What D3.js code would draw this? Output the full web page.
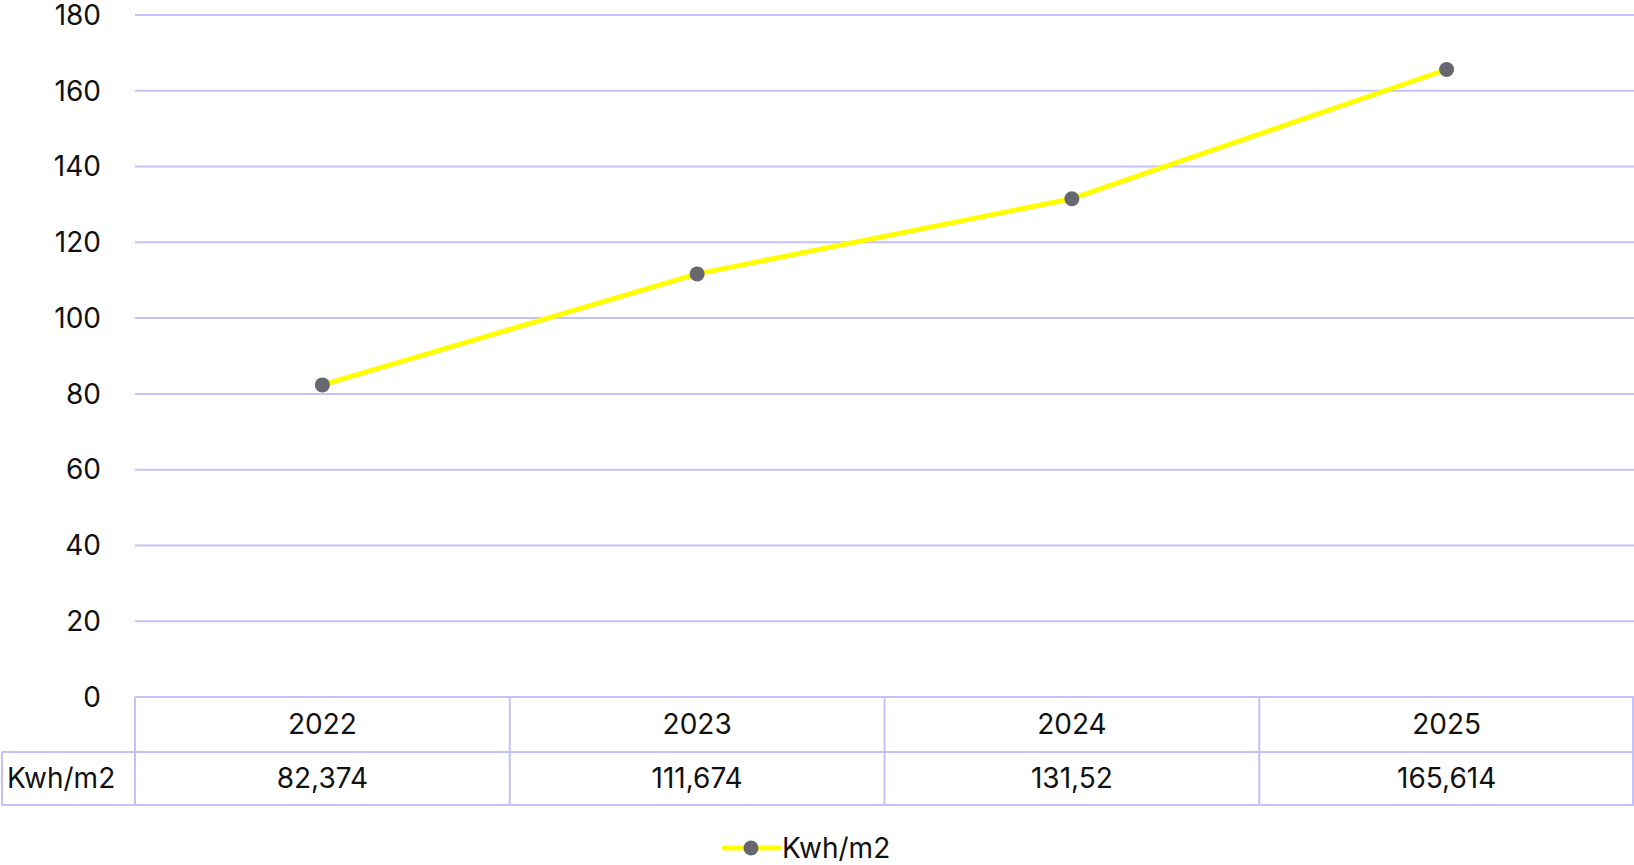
<!DOCTYPE html>
<html>
<head>
<meta charset="utf-8">
<script src="https://cdn.jsdelivr.net/npm/d3@7"></script>
<style>
  html, body { margin: 0; padding: 0; background: #fff; }
  svg { display: block; font-family: Inter, "Noto Sans", sans-serif; }
</style>
</head>
<body>
<svg id="chart" width="1634" height="865"></svg>
<script>
const YEARS = ['2022', '2023', '2024', '2025'];
const VALUES = [82.374, 111.674, 131.52, 165.614];
const VALUE_LABELS = ['82,374', '111,674', '131,52', '165,614'];
const SERIES_NAME = 'Kwh/m2';
const Y_TICKS = [0, 20, 40, 60, 80, 100, 120, 140, 160, 180];

const GRID = '#c2c2f4';
const LINE = '#ffff00';
const DOT = '#67676f';
const FONT = 28;

const svg = d3.select('#chart');

const x = d3.scaleBand().domain(YEARS).range([135, 1634]);
const y = d3.scaleLinear().domain([0, 180]).range([697, 15]);

// gridlines (skip 0, the table top sits there)
svg.append('g').selectAll('line')
  .data(Y_TICKS.filter(t => t > 0))
  .join('line')
  .attr('x1', 135).attr('x2', 1634)
  .attr('y1', d => y(d)).attr('y2', d => y(d))
  .attr('stroke', GRID).attr('stroke-width', 2);

// y axis labels
svg.append('g').selectAll('text')
  .data(Y_TICKS)
  .join('text')
  .attr('x', 101)
  .attr('y', d => y(d))
  .attr('dy', '0.35em')
  .attr('text-anchor', 'end')
  .attr('font-size', FONT)
  .attr('fill', '#111')
  .text(d => d);

// data table under the plot
const rowTop = y(0), rowMid = 752, rowBot = 805, labelLeft = 2;
const tbl = svg.append('g').attr('fill', 'none').attr('stroke', GRID).attr('stroke-width', 2);
tbl.append('line').attr('x1', x.range()[0]).attr('x2', x.range()[1]).attr('y1', rowTop).attr('y2', rowTop);
tbl.append('line').attr('x1', labelLeft).attr('x2', x.range()[1]).attr('y1', rowMid).attr('y2', rowMid);
tbl.append('line').attr('x1', labelLeft).attr('x2', x.range()[1]).attr('y1', rowBot).attr('y2', rowBot);
tbl.append('line').attr('x1', labelLeft).attr('x2', labelLeft).attr('y1', rowMid).attr('y2', rowBot);
tbl.selectAll('line.col')
  .data([...YEARS.map(d => x(d)), x.range()[1] - 1])
  .join('line')
  .attr('class', 'col')
  .attr('x1', d => d).attr('x2', d => d)
  .attr('y1', rowTop).attr('y2', rowBot);

svg.append('g').selectAll('text')
  .data(YEARS)
  .join('text')
  .attr('x', d => x(d) + x.bandwidth() / 2)
  .attr('y', (rowTop + rowMid) / 2)
  .attr('dy', '0.35em')
  .attr('text-anchor', 'middle')
  .attr('font-size', FONT)
  .attr('fill', '#111')
  .text(d => d);

svg.append('g').selectAll('text')
  .data(VALUE_LABELS)
  .join('text')
  .attr('x', (d, i) => x(YEARS[i]) + x.bandwidth() / 2)
  .attr('y', (rowMid + rowBot) / 2)
  .attr('dy', '0.35em')
  .attr('text-anchor', 'middle')
  .attr('font-size', FONT)
  .attr('fill', '#111')
  .text(d => d);

svg.append('text')
  .attr('x', 7)
  .attr('y', (rowMid + rowBot) / 2)
  .attr('dy', '0.35em')
  .attr('font-size', FONT)
  .attr('fill', '#111')
  .text(SERIES_NAME);

// line + markers
const pts = YEARS.map((yr, i) => [x(yr) + x.bandwidth() / 2, y(VALUES[i])]);
svg.append('path')
  .attr('d', d3.line()(pts))
  .attr('fill', 'none')
  .attr('stroke', LINE)
  .attr('stroke-width', 5)
  .attr('stroke-linejoin', 'round');

svg.append('g').selectAll('circle')
  .data(pts)
  .join('circle')
  .attr('cx', d => d[0]).attr('cy', d => d[1])
  .attr('r', 7.5)
  .attr('fill', DOT);

// legend
const lg = svg.append('g');
lg.append('line')
  .attr('x1', 724).attr('x2', 779).attr('y1', 848).attr('y2', 848)
  .attr('stroke', LINE).attr('stroke-width', 5).attr('stroke-linecap', 'round');
lg.append('circle').attr('cx', 751).attr('cy', 848).attr('r', 7.5).attr('fill', DOT);
lg.append('text')
  .attr('x', 782).attr('y', 848).attr('dy', '0.35em')
  .attr('font-size', FONT).attr('fill', '#111')
  .text(SERIES_NAME);
</script>
</body>
</html>
